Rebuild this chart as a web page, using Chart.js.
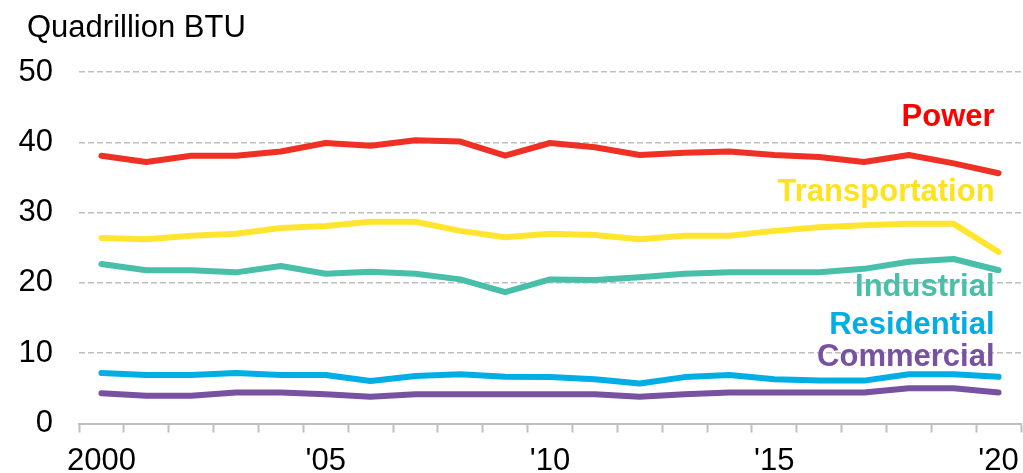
<!DOCTYPE html>
<html>
<head>
<meta charset="utf-8">
<script src="https://cdn.jsdelivr.net/npm/chart.js@4.4.0/dist/chart.umd.min.js"></script>
<style>
  html, body { margin: 0; padding: 0; background: #fff; }
  #wrap { width: 1023px; height: 473px; }
</style>
</head>
<body>
<div id="wrap"><canvas id="chart" width="1023" height="473"></canvas></div>
<script>
// years on the x axis and the labels shown under them
const years = ['2000','2001','2002','2003','2004','2005','2006','2007','2008','2009','2010',
               '2011','2012','2013','2014','2015','2016','2017','2018','2019','2020'];
const yearLabels = ['2000','','','','',"'05",'','','','',"'10",'','','','',"'15",'','','','',"'20"];
const yTicks = [0, 10, 20, 30, 40, 50];

// quadrillion BTU by sector
const power = [38.1,37.2,38.1,38.1,38.7,39.9,39.5,40.3,40.1,38.1,39.9,39.3,38.2,38.5,38.7,38.2,37.9,37.2,38.2,37.0,35.6];
const transportation = [26.4,26.2,26.7,27.0,27.8,28.1,28.7,28.7,27.4,26.5,27.0,26.8,26.2,26.7,26.7,27.4,27.9,28.2,28.4,28.4,24.4];
const industrial = [22.7,21.8,21.8,21.5,22.4,21.3,21.6,21.3,20.5,18.7,20.5,20.4,20.8,21.3,21.5,21.5,21.5,22.0,23.0,23.4,21.8];
const residential = [7.2,6.9,6.9,7.2,6.9,6.9,6.05,6.75,7.0,6.65,6.6,6.3,5.7,6.6,6.9,6.3,6.1,6.1,7.0,7.0,6.65];
const commercial = [4.3,3.95,3.95,4.4,4.4,4.15,3.8,4.15,4.15,4.15,4.15,4.15,3.8,4.15,4.4,4.4,4.4,4.4,5.0,5.0,4.4];

const seriesNames = ['Power','Transportation','Industrial','Residential','Commercial'];
const seriesColors = ['#EE3124','#FFE530','#48BFA8','#00AEE5','#7851A1'];
const nameColors = ['#FF0000','#FFE21F','#48BFA8','#00AEE5','#7851A1'];
const seriesData = [power, transportation, industrial, residential, commercial];

// where the series names sit (value of the text baseline)
const nameBaseline = {Power: 42.3, Transportation: 31.65, Industrial: 18.1, Residential: 12.7, Commercial: 8.2};

const FONT = '"Liberation Sans", Arial, sans-serif';

const labelsPlugin = {
    id: 'labelsPlugin',
    afterDatasetsDraw(chart){
        const ctx = chart.ctx;
        const x = chart.scales.x;
        const y = chart.scales.y;
        ctx.save();
        ctx.font = 'bold 31px ' + FONT;
        ctx.textAlign = 'right';
        ctx.textBaseline = 'alphabetic';
        const right = x.getPixelForValue(years.length - 1) - 4;
        seriesNames.forEach((name, i)=>{
            ctx.fillStyle = nameColors[i];
            ctx.fillText(name, right, y.getPixelForValue(nameBaseline[name]));
        });
        ctx.font = '31px ' + FONT;
        ctx.fillStyle = '#000';
        ctx.textAlign = 'left';
        ctx.fillText('Quadrillion BTU', 27, 37);
        ctx.restore();
    }
};

new Chart(document.getElementById('chart'), {
    type: 'line',
    data: {
        labels: years,
        datasets: seriesNames.map((name, i)=>({
            label: name,
            data: seriesData[i],
            borderColor: seriesColors[i],
            backgroundColor: seriesColors[i],
            borderWidth: 6,
            borderCapStyle: 'round',
            borderJoinStyle: 'round',
            pointRadius: 0,
            tension: 0
        }))
    },
    options: {
        responsive: false,
        animation: false,
        layout: { padding: { top: 72, left: 17, right: 2, bottom: 0 } },
        plugins: { legend: { display: false }, tooltip: { enabled: false } },
        scales: {
            x: {
                offset: true,
                afterFit: (axis)=>{
                    axis.height = 49.5;
                    axis.paddingLeft = 0;
                    axis.paddingRight = 0;
                },
                grid: {
                    offset: true,
                    drawOnChartArea: false,
                    drawTicks: true,
                    tickLength: 9,
                    tickColor: '#BFBFBF',
                    tickWidth: 2
                },
                border: { display: true, color: '#BFBFBF', width: 2 },
                ticks: {
                    autoSkip: false,
                    maxRotation: 0,
                    padding: 10,
                    color: '#000',
                    font: { family: FONT, size: 31 },
                    callback: (v, i)=> yearLabels[i]
                }
            },
            y: {
                min: 0,
                max: 50,
                afterFit: (axis)=>{ axis.width = 62; },
                afterBuildTicks: (axis)=>{ axis.ticks = yTicks.map(v=>({value: v})); },
                grid: {
                    color: (c)=> c.tick && c.tick.value === 0 ? 'rgba(0,0,0,0)' : '#BFBFBF',
                    lineWidth: 1.5,
                    drawTicks: false
                },
                border: { display: false, dash: [6, 3] },
                ticks: {
                    padding: 26,
                    color: '#000',
                    font: { family: FONT, size: 31 }
                }
            }
        }
    },
    plugins: [labelsPlugin]
});
</script>
</body>
</html>
